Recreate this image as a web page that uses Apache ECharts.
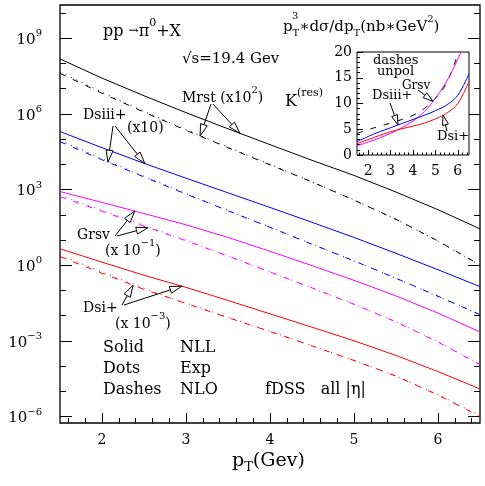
<!DOCTYPE html>
<html><head><meta charset="utf-8">
<script src="https://cdn.jsdelivr.net/npm/echarts@6/dist/echarts.min.js"></script>
<style>html,body{margin:0;padding:0;background:#fff}#c{width:485px;height:486px}</style>
</head><body><div id="c"></div>
<script>
// ---------------- DATA ----------------
// main panel: log10 of pT^3 dσ/dpT (nb GeV^2), with the scale factors of the labels
const pT = [1.5, 2.0, 2.5, 3.0, 3.5, 4.0, 4.5, 5.0, 5.5, 6.0, 6.5];
const mrstNLL  = [8.18, 7.42, 6.72, 6.05, 5.41, 4.78, 4.16, 3.56, 2.90, 2.20, 1.44];
const mrstExp  = [7.66, 6.86, 6.10, 5.38, 4.68, 4.00, 3.31, 2.59, 1.82, 0.95, 0.00];
const mrstNLO  = [7.61, 6.82, 6.07, 5.35, 4.66, 3.98, 3.30, 2.58, 1.82, 0.96, 0.01];
const dsiiiNLL = [5.30, 4.66, 4.04, 3.45, 2.87, 2.29, 1.70, 1.10, 0.47, -0.18, -0.85];
const dsiiiExp = [4.95, 4.22, 3.53, 2.84, 2.17, 1.51, 0.84, 0.17, -0.52, -1.24, -1.97];
const dsiiiNLO = [4.90, 4.18, 3.50, 2.82, 2.16, 1.50, 0.83, 0.17, -0.52, -1.23, -1.96];
const grsvNLL  = [2.92, 2.49, 2.05, 1.60, 1.10, 0.55, -0.02, -0.60, -1.22, -1.90, -2.65];
const grsvExp  = [2.77, 2.18, 1.58, 0.99, 0.37, -0.27, -0.90, -1.55, -2.24, -3.04, -3.93];
const grsvNLO  = [2.72, 2.14, 1.55, 0.97, 0.36, -0.27, -0.90, -1.55, -2.25, -3.05, -3.95];
const dsiNLL   = [0.65, 0.12, -0.40, -0.88, -1.40, -1.93, -2.46, -3.00, -3.58, -4.22, -4.91];
const dsiExp   = [0.40, -0.27, -0.92, -1.50, -2.07, -2.62, -3.19, -3.77, -4.39, -5.13, -5.97];
const dsiNLO   = [0.34, -0.32, -0.96, -1.52, -2.08, -2.63, -3.20, -3.78, -4.40, -5.15, -6.00];
const yTickExps = [-6, -3, 0, 3, 6, 9];
const xTickLabels = [2, 3, 4, 5, 6];

// inset: K(res)
const kPT       = [1.5, 2.0, 2.5, 3.0, 3.5, 4.0, 4.5, 5.0, 5.5, 6.0, 6.5];
const kDsiii    = [2.6, 3.6, 4.5, 5.3, 6.1, 6.9, 7.7, 8.6, 9.7, 11.6, 15.8];
const kDsi      = [2.2, 3.0, 3.8, 4.5, 5.1, 5.6, 6.2, 7.0, 8.1, 10.0, 14.3];
const kGrsvPT   = [1.5, 2.0, 2.5, 3.0, 3.5, 4.0, 4.5, 5.0, 5.5, 6.0, 6.3];
const kGrsv     = [1.8, 2.5, 3.3, 4.2, 5.3, 6.6, 8.4, 11.0, 14.3, 18.6, 21.8];
const kUnpolPT  = [1.5, 2.0, 2.5, 3.0, 3.5, 4.0, 4.5, 5.0, 5.5, 6.0, 6.1];
const kUnpol    = [4.2, 4.9, 5.6, 6.2, 6.9, 7.7, 9.0, 11.0, 14.0, 19.5, 20.8];

// ---------------- CHART ----------------
const F = 'DejaVu Serif';
const chart = echarts.init(document.getElementById('c'), null, {renderer: 'canvas'});
const BLUE = '#0000ff', MAG = '#ff00ff', RED = '#ff0000', BLK = '#000000';

function range(a, b, s) { const r = []; for (let v = a; v <= b + 1e-9; v += s) r.push(+v.toFixed(4)); return r; }
const supTxt = v => (v < 0 ? '\u2212' + (-v) : '' + v);

function line(xs, ys, color, style, xi, yi, smooth) {
  let t = 'solid';
  if (style === 'dash') t = [6, 8];
  if (style === 'dot') t = [1, 5];
  return {
    type: 'line', xAxisIndex: xi, yAxisIndex: yi, silent: true, animation: false,
    data: xs.map((x, i) => [x, ys[i]]), symbol: 'none', showSymbol: false,
    smooth: smooth || false, clip: true,
    lineStyle: {color: color, width: 1, type: t}
  };
}

const noLine = {show: false, onZero: false};
const blankAxis = {axisLine: noLine, splitLine: {show: false}, axisLabel: {show: false}};
const mainX = {min: 1.5, max: 6.5, type: 'value', gridIndex: 0, position: 'bottom'};
const mainY = {min: -6.26, max: 10.32, type: 'value', gridIndex: 0};

const option = {
  animation: false,
  backgroundColor: '#fff',
  grid: [
    {left: 60, top: 5, width: 420, height: 418, show: true, borderColor: '#000', borderWidth: 1.3, backgroundColor: 'transparent'},
    {left: 357, top: 52, width: 112, height: 103, show: true, borderColor: '#000', borderWidth: 1, backgroundColor: '#fff', z: 5}
  ],
  xAxis: [
    Object.assign({}, mainX, {axisLine: noLine, splitLine: {show: false},
      axisTick: {show: true, inside: true, length: 10, customValues: xTickLabels, lineStyle: {color: '#000', width: 1}},
      axisLabel: {show: true, customValues: xTickLabels, margin: 10, fontFamily: F, fontSize: 14, color: '#000'}}),
    Object.assign({}, mainX, blankAxis, {axisTick: {show: true, inside: true, length: 5, customValues: range(1.6, 6.4, 0.2), lineStyle: {color: '#000', width: 1}}}),
    {type: 'value', gridIndex: 1, min: 1.5, max: 6.5, position: 'bottom', axisLine: noLine, splitLine: {show: false},
      axisTick: {show: true, inside: true, length: 5, customValues: xTickLabels, lineStyle: {color: '#000'}},
      axisLabel: {show: true, customValues: xTickLabels, margin: 9, fontFamily: F, fontSize: 14, color: '#000'}, z: 6},
    {type: 'value', gridIndex: 1, min: 1.5, max: 6.5, position: 'bottom', axisLine: noLine, splitLine: {show: false}, axisLabel: {show: false},
      axisTick: {show: true, inside: true, length: 2.5, customValues: range(1.6, 6.4, 0.2), lineStyle: {color: '#000'}}, z: 6}
  ],
  yAxis: [
    Object.assign({}, mainY, {position: 'left', axisLine: noLine, splitLine: {show: false},
      axisTick: {show: true, inside: true, length: 12, customValues: yTickExps, lineStyle: {color: '#000'}},
      axisLabel: {show: true, customValues: yTickExps, margin: 18, color: '#000',
        formatter: v => '{b|10}{s|' + supTxt(Math.round(v)) + '}',
        rich: {b: {fontFamily: F, fontSize: 15, verticalAlign: 'bottom', color: '#000'},
               s: {fontFamily: F, fontSize: 10, verticalAlign: 'bottom', padding: [0, 0, 9, 0], color: '#000'}}}}),
    Object.assign({}, mainY, blankAxis, {position: 'left', axisTick: {show: true, inside: true, length: 6, customValues: range(-6, 10, 1), lineStyle: {color: '#000'}}}),
    Object.assign({}, mainY, blankAxis, {position: 'right', axisTick: {show: true, inside: true, length: 12, customValues: yTickExps, lineStyle: {color: '#000'}}}),
    Object.assign({}, mainY, blankAxis, {position: 'right', axisTick: {show: true, inside: true, length: 6, customValues: range(-6, 10, 1), lineStyle: {color: '#000'}}}),
    {type: 'value', gridIndex: 1, min: 0, max: 20, interval: 5, position: 'left', axisLine: noLine, splitLine: {show: false},
      axisTick: {show: true, inside: true, length: 6, lineStyle: {color: '#000'}},
      minorTick: {show: true, splitNumber: 5, length: 3, lineStyle: {color: '#000'}},
      axisLabel: {show: true, margin: 5, fontFamily: F, fontSize: 14, color: '#000'}, z: 6}
  ],
  series: [
    line(pT, mrstNLL, BLK, 'solid', 0, 0), line(pT, mrstExp, BLK, 'dot', 0, 0), line(pT, mrstNLO, BLK, 'dash', 0, 0),
    line(pT, dsiiiNLL, BLUE, 'solid', 0, 0), line(pT, dsiiiExp, BLUE, 'dot', 0, 0), line(pT, dsiiiNLO, BLUE, 'dash', 0, 0),
    line(pT, grsvNLL, MAG, 'solid', 0, 0), line(pT, grsvExp, MAG, 'dot', 0, 0), line(pT, grsvNLO, MAG, 'dash', 0, 0),
    line(pT, dsiNLL, RED, 'solid', 0, 0), line(pT, dsiExp, RED, 'dot', 0, 0), line(pT, dsiNLO, RED, 'dash', 0, 0),
    Object.assign(line(kUnpolPT, kUnpol, BLK, 'dash', 2, 4, 0.35), {z: 7}),
    Object.assign(line(kGrsvPT, kGrsv, MAG, 'solid', 2, 4, 0.35), {z: 7}),
    Object.assign(line(kPT, kDsiii, BLUE, 'solid', 2, 4, 0.35), {z: 7}),
    Object.assign(line(kPT, kDsi, RED, 'solid', 2, 4, 0.35), {z: 7})
  ]
};
chart.setOption(option);

// ---------------- ANNOTATIONS ----------------
function interp(xs, ys, x) {
  for (let i = 0; i < xs.length - 1; i++) {
    if (x >= xs[i] && x <= xs[i + 1]) { const t = (x - xs[i]) / (xs[i + 1] - xs[i]); return ys[i] + t * (ys[i + 1] - ys[i]); }
  }
  return ys[ys.length - 1];
}
function tipOf(xs, ys, x, grid) {
  const idx = grid === 0 ? {xAxisIndex: 0, yAxisIndex: 0} : {xAxisIndex: 2, yAxisIndex: 4};
  return chart.convertToPixel(idx, [x, interp(xs, ys, x)]);
}
function arrow(x0, y0, tip, hl, hw) {
  hl = hl || 12; hw = hw || 3.5;
  const x1 = tip[0], y1 = tip[1];
  const dx = x1 - x0, dy = y1 - y0, L = Math.hypot(dx, dy), ux = dx / L, uy = dy / L;
  const bx = x1 - ux * hl, by = y1 - uy * hl;
  return [
    {type: 'line', shape: {x1: x0, y1: y0, x2: bx, y2: by}, style: {stroke: '#000', lineWidth: 1}, z: 20, silent: true},
    {type: 'polygon', shape: {points: [[x1, y1], [bx - uy * hw, by + ux * hw], [bx + uy * hw, by - ux * hw]]},
     style: {fill: '#fff', stroke: '#000', lineWidth: 1}, z: 20, silent: true}
  ];
}
const R = (size) => ({
  n: {fontFamily: F, fontSize: size, verticalAlign: 'bottom', padding: [0, 0, 3, 0], color: '#000'},
  sup: {fontFamily: F, fontSize: Math.round(size * 0.68), verticalAlign: 'bottom', padding: [0, 0, Math.round(size * 0.9), 0], color: '#000'},
  sub: {fontFamily: F, fontSize: Math.round(size * 0.68), verticalAlign: 'bottom', padding: [0, 0, 0, 0], color: '#000'},
  ar: {fontFamily: F, fontSize: Math.round(size * 0.75), verticalAlign: 'bottom', padding: [0, 0, 6, 0], color: '#000'}
});
function txt(x, y, rich, size) {
  return {type: 'text', x: x, y: y, z: 21, silent: true,
    style: {text: rich, rich: R(size), fontFamily: F, fontSize: size, fill: '#000', verticalAlign: 'middle', align: 'left'}};
}

const g = [];
g.push(txt(103, 30, '{n|pp }{ar|\u2192}{n|\u03c0}{sup|0}{n|+X}', 16));
g.push(txt(283, 26, '{n|p}{sub|T}{n|\u2217d\u03c3/dp}{sub|T}{n|(nb\u2217GeV}{sup|2}{n|)}', 15));
g.push(txt(292, 23, '{sup|3}', 15));
g.push(txt(182, 61, '{n|\u221as=19.4 Gev}', 15));
g.push(txt(285, 100, '{n|K}{sup|(res)}', 16));
g.push(txt(182, 97, '{n|Mrst (x10}{sup|2}{n|)}', 14));
g.push(txt(83, 117, '{n|Dsiii+}', 14));
g.push(txt(127, 130, '{n|(x10)}', 14));
g.push(txt(77, 237, '{n|Grsv}', 14));
g.push(txt(105, 250, '{n|(x 10}{sup|\u22121}{n|)}', 14));
g.push(txt(83, 310, '{n|Dsi+}', 14));
g.push(txt(115, 323, '{n|(x 10}{sup|\u22123}{n|)}', 14));
g.push(txt(103, 349, '{n|Solid}', 16));
g.push(txt(103, 370, '{n|Dots}', 16));
g.push(txt(103, 391, '{n|Dashes}', 16));
g.push(txt(180, 349, '{n|NLL}', 16));
g.push(txt(180, 370, '{n|Exp}', 16));
g.push(txt(180, 391, '{n|NLO}', 16));
g.push(txt(265, 391, '{n|fDSS   all |\u03b7|}', 16));
g.push(txt(232, 463, '{n|p}{sub|T}{n|(Gev)}', 19));
// inset texts
g.push(txt(373, 62, '{n|dashes}', 13));
g.push(txt(377, 73, '{n|unpol}', 13));
g.push(txt(402, 87, '{n|Grsv}', 12));
g.push(txt(372, 97, '{n|Dsiii+}', 13));
g.push(txt(437, 138, '{n|Dsi+}', 13));

// arrows, tips placed on the curves
arrow(211, 104, tipOf(pT, mrstNLO, 3.167, 0)).forEach(e => g.push(e));
arrow(213, 104, tipOf(pT, mrstNLL, 3.643, 0)).forEach(e => g.push(e));
arrow(113, 126, tipOf(pT, dsiiiNLO, 2.07, 0)).forEach(e => g.push(e));
arrow(115, 126, tipOf(pT, dsiiiNLL, 2.51, 0)).forEach(e => g.push(e));
arrow(115, 236, tipOf(pT, grsvNLL, 2.39, 0)).forEach(e => g.push(e));
arrow(117, 236, tipOf(pT, grsvNLO, 2.55, 0)).forEach(e => g.push(e));
arrow(122, 305, tipOf(pT, dsiNLO, 2.37, 0)).forEach(e => g.push(e));
arrow(124, 305, tipOf(pT, dsiNLL, 2.95, 0)).forEach(e => g.push(e));
arrow(390, 103, tipOf(kPT, kDsiii, 3.33, 1), 10, 3).forEach(e => g.push(e));
arrow(418, 90, tipOf(kGrsvPT, kGrsv, 4.89, 1), 10, 3).forEach(e => g.push(e));
arrow(447, 131, tipOf(kPT, kDsi, 5.34, 1), 10, 3).forEach(e => g.push(e));

chart.setOption({graphic: {elements: g}});
</script>
</body></html>
